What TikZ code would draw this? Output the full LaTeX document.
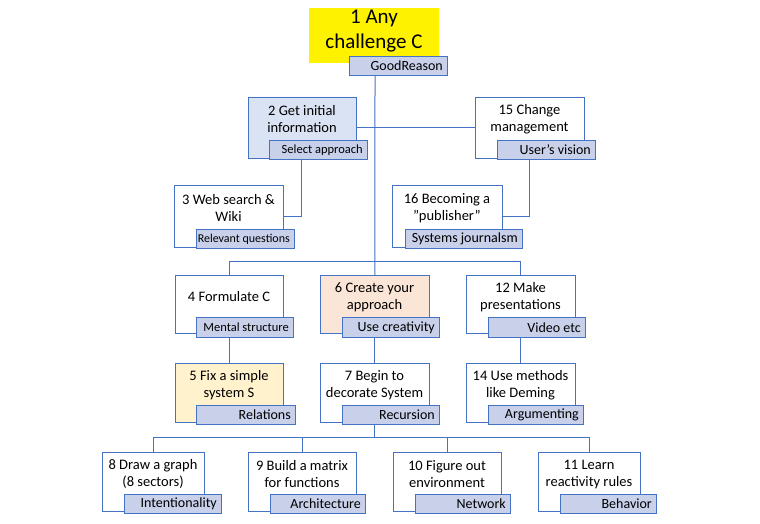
\documentclass[tikz,border=0pt]{standalone}
\usepackage{fontspec}
\setmainfont{Carlito}
\usetikzlibrary{backgrounds}
\definecolor{bl}{RGB}{68,114,196}
\definecolor{lab}{RGB}{200,208,234}
\definecolor{b2}{RGB}{218,227,243}
\definecolor{b6}{RGB}{251,229,214}
\definecolor{b5}{RGB}{255,242,204}
\tikzset{bx/.style={draw=bl,line width=0.9pt,inner sep=0pt},
 lb/.style={draw=bl,fill=lab,line width=0.9pt,inner sep=0pt},
 ln/.style={draw=bl,line width=1pt},
 tx/.style={align=center,font=\fontsize{14.5}{17}\selectfont,inner sep=0pt}}
% name, x1,y1,x2,y2, fill, text, label top y
\newcommand\mkbox[8]{%
 \node[bx,fill=#6,minimum width=#4pt-#2pt,minimum height=#5pt-#3pt,anchor=north west] (#1) at (#2,#3) {};
 \node[tx] (#1t) at ({(#2+#4)/2},{(#3+#8)/2+1}) {#7};}
% name, lx1,ly1,lx2,ly2, font size, text
\newcommand\mklab[7]{%
 \node[lb,minimum width=#4pt-#2pt,minimum height=#5pt-#3pt,anchor=north west] (#1l) at (#2,#3) {};
 \node[anchor=east,inner sep=0pt,font=\fontsize{#6}{#6}\selectfont] (#1lt) at (#4-4,{(#3+#5)/2+0.5}) {#7};}
\begin{document}
\begin{tikzpicture}[x=1pt,y=-1pt]
\useasboundingbox (0,0) rectangle (760,523);
% box 1
\node[fill=yellow,minimum width=130pt,minimum height=55pt,anchor=north west,inner sep=0pt] (b1) at (309,8) {};
\node[tx,font=\fontsize{21}{25}\selectfont] (b1t) at (374,31) {1 Any\\challenge C};
\mklab{b1}{349}{56}{447}{75}{14}{GoodReason}
\coordinate (t0) at (375,75);
\mkbox{b2}{248}{97}{356}{158}{b2}{2 Get initial\\information}{140}
\mklab{b2}{269}{140}{367}{159}{12.5}{Select approach}
\mkbox{b15}{475}{97}{584}{158}{white}{15 Change\\management}{140}
\mklab{b15}{497}{140}{595}{159}{14}{User’s vision}
\mkbox{b3}{174}{185}{283}{247}{white}{3 Web search \&\\Wiki}{229}
\mklab{b3}{196}{229}{294}{248}{12}{Relevant questions}
\mkbox{b16}{392}{185}{502}{247}{white}{16 Becoming a\\”publisher”}{229}
\mklab{b16}{405}{229}{522}{248}{14}{Systems journalsm}
\coordinate (c23) at (301,159);
\coordinate (c1516) at (529,159);
% row 1
\mkbox{b4}{175}{275}{283}{333}{white}{4 Formulate C}{317}
\mklab{b4}{196}{317}{293}{337}{12.5}{Mental structure}
\mkbox{b6}{320}{275}{429}{333}{b6}{6 Create your\\approach}{317}
\mklab{b6}{342}{317}{439}{337}{14}{Use creativity}
\mkbox{b12}{466}{275}{575}{333}{white}{12 Make\\presentations}{317}
\mklab{b12}{488}{317}{585}{337}{14}{Video etc}
% row 2
\mkbox{b5}{175}{363}{283}{422}{b5}{5 Fix a simple\\system S}{405}
\mklab{b5}{196}{405}{295}{424}{14}{Relations}
\mkbox{b7}{320}{363}{429}{422}{white}{7 Begin to\\decorate System}{405}
\mklab{b7}{342}{405}{439}{424}{14}{Recursion}
\mkbox{b14}{466}{363}{575}{422}{white}{14 Use methods\\like Deming}{405}
\mklab{b14}{488}{405}{583}{424}{14}{Argumenting}
% row 3
\mkbox{b8}{102}{452}{204}{511}{white}{8 Draw a graph\\(8 sectors)}{494}
\mklab{b8}{124}{494}{221}{513}{14}{Intentionality}
\mkbox{b9}{248}{452}{356}{511}{white}{9 Build a matrix\\for functions}{494}
\mklab{b9}{270}{494}{365}{513}{14}{Architecture}
\mkbox{b10}{393}{452}{501}{511}{white}{10 Figure out\\environment}{494}
\mklab{b10}{415}{494}{510}{513}{14}{Network}
\mkbox{b11}{538}{452}{640}{511}{white}{11 Learn\\reactivity rules}{494}
\mklab{b11}{560}{494}{656}{513}{14}{Behavior}
\begin{scope}[on background layer]
\fill[white] (0,0) rectangle (760,523);
\draw[ln] (t0) -- (b6.north);
\draw[ln] (b2.east) -- (b15.west);
\draw[ln] (c23) |- (b3.east);
\draw[ln] (c1516) |- (b16.east);
\draw[ln] (b4.north) -- ++(0,-14) -| (b12.north);
\draw[ln] (b4.south) -- (b5.north);
\draw[ln] (b6.south) -- (b7.north);
\draw[ln] (b12.south) -- (b14.north);
\draw[ln] (b7.south) -- ++(0,15);
\draw[ln] (b8.north) -- ++(0,-15) -| (b11.north);
\draw[ln] (b9.north) -- ++(0,-15);
\draw[ln] (b10.north) -- ++(0,-15);
\end{scope}
\end{tikzpicture}
\end{document}
